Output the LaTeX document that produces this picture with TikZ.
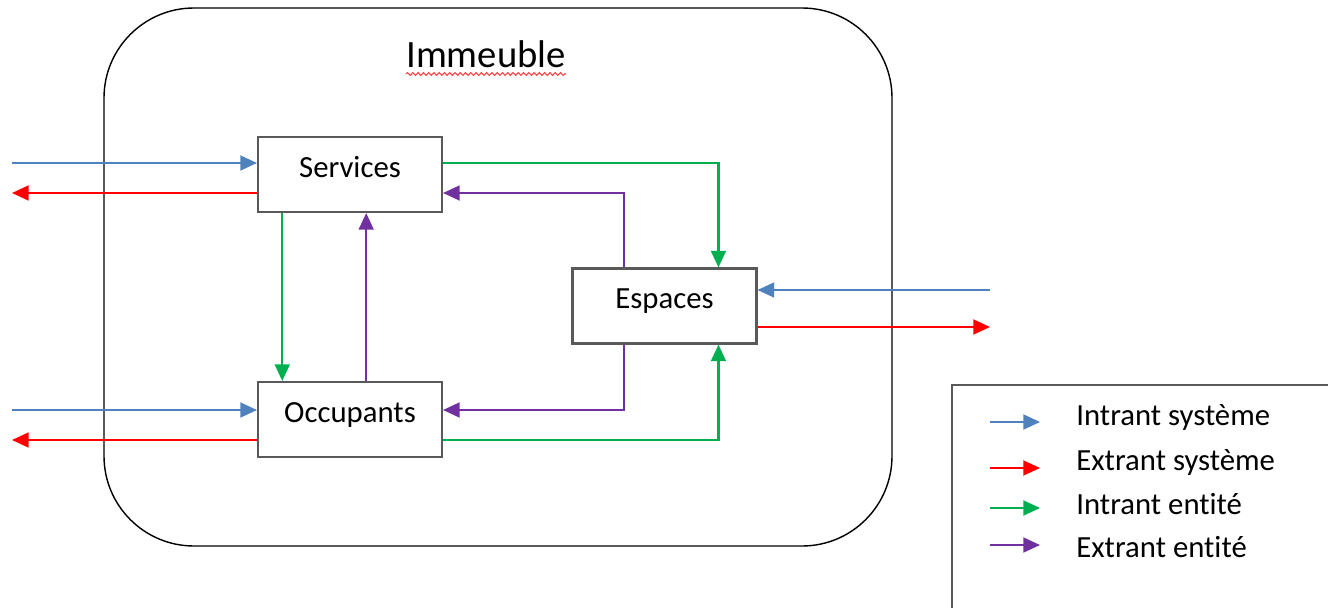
\documentclass[tikz,border=0pt]{standalone}
\usepackage{fontspec}
\setmainfont{Carlito}[RawFeature={-liga;-clig;-calt;-dlig}]
\usepackage{xcolor}
\definecolor{sysblue}{RGB}{79,129,189}
\definecolor{sysred}{RGB}{255,0,0}
\definecolor{entgreen}{RGB}{0,176,80}
\definecolor{entpurple}{RGB}{112,48,160}
\usetikzlibrary{positioning,arrows.meta,calc,decorations.pathmorphing}

\begin{document}
\begin{tikzpicture}[x=0.02cm,y=-0.02cm,
		box/.style={draw=black!65,line width=1.2pt,fill=white,minimum width=3.68cm,minimum height=1.5cm,text height=9pt,text depth=6pt,font=\fontsize{17.5}{20}\selectfont},
		flow/.style={line width=1.2pt,-{Triangle[length=9.5pt,width=8.5pt]}},
		sysin/.style={flow,sysblue},
		sysout/.style={flow,sysred},
		entin/.style={flow,entgreen},
		entout/.style={flow,entpurple},
		legtext/.style={anchor=base west,inner sep=0pt,font=\fontsize{17.5}{20}\selectfont}]
				\useasboundingbox (0,0) rectangle (1328,608);
				% building
				\draw[line width=0.8pt,rounded corners=1.8cm] (104,8) rectangle (892,546);
				\node[anchor=base,inner sep=0pt,font=\fontsize{22}{26}\selectfont] (title) at (486,68) {Immeuble};
				\draw[red!75,line width=0.6pt,decorate,decoration={snake,amplitude=0.8pt,segment length=3pt}] ($(title.base west)+(0,6)$) -- ($(title.base east)+(0,6)$);
				% entities
				\node[box] (services) at (350,174.5) {Services};
				\node[box] (occupants) at (350,419.5) {Occupants};
				\node[box] (espaces) at (664.5,306) {Espaces};
				% free ends
				\coordinate [] (inS) at (12,163);
				\coordinate [] (outS) at (12,193);
				\coordinate [] (inO) at (12,410);
				\coordinate [] (outO) at (12,440);
				\coordinate [] (inE) at (990,290);
				\coordinate [] (outE) at (990,327);
				% system flows
				\draw[sysin] (inS) -- (inS -| services.west);
				\draw[sysout] (outS -| services.west) -- (outS);
				\draw[sysin] (inO) -- (inO -| occupants.west);
				\draw[sysout] (outO -| occupants.west) -- (outO);
				\draw[sysin] (inE) -- (inE -| espaces.east);
				\draw[sysout] (outE -| espaces.east) -- (outE);
				% entity flows
				\draw[entin] (services.east |- inS) -| ($(espaces.north west)!0.79!(espaces.north east)$);
				\draw[entout] ($(espaces.north west)!0.28!(espaces.north east)$) |- (services.east |- outS);
				\draw[entin] ($(services.south west)!0.136!(services.south east)$) -- ($(occupants.north west)!0.136!(occupants.north east)$);
				\draw[entout] ($(occupants.north west)!0.587!(occupants.north east)$) -- ($(services.south west)!0.587!(services.south east)$);
				\draw[entout] ($(espaces.south west)!0.28!(espaces.south east)$) |- (occupants.east |- inO);
				\draw[entin] (occupants.east |- outO) -| ($(espaces.south west)!0.79!(espaces.south east)$);
				% legend
				\draw[black!65,line width=0.9pt] (952,608) |- (1328,385);
				\node[legtext] (lgA) at (1076,425) {Intrant système};
				\node[legtext] (lgB) at (1076,470) {Extrant système};
				\node[legtext] (lgC) at (1076,514) {Intrant entité};
				\node[legtext] (lgD) at (1076,557) {Extrant entité};
				\draw[sysin] ($(lgA.base west)+(-86,-3)$) -- ($(lgA.base west)+(-36,-3)$);
				\draw[sysout] ($(lgB.base west)+(-86,-2)$) -- ($(lgB.base west)+(-36,-2)$);
				\draw[entin] ($(lgC.base west)+(-86,-6)$) -- ($(lgC.base west)+(-36,-6)$);
				\draw[entout] ($(lgD.base west)+(-86,-12)$) -- ($(lgD.base west)+(-36,-12)$);
\end{tikzpicture}
\end{document}
